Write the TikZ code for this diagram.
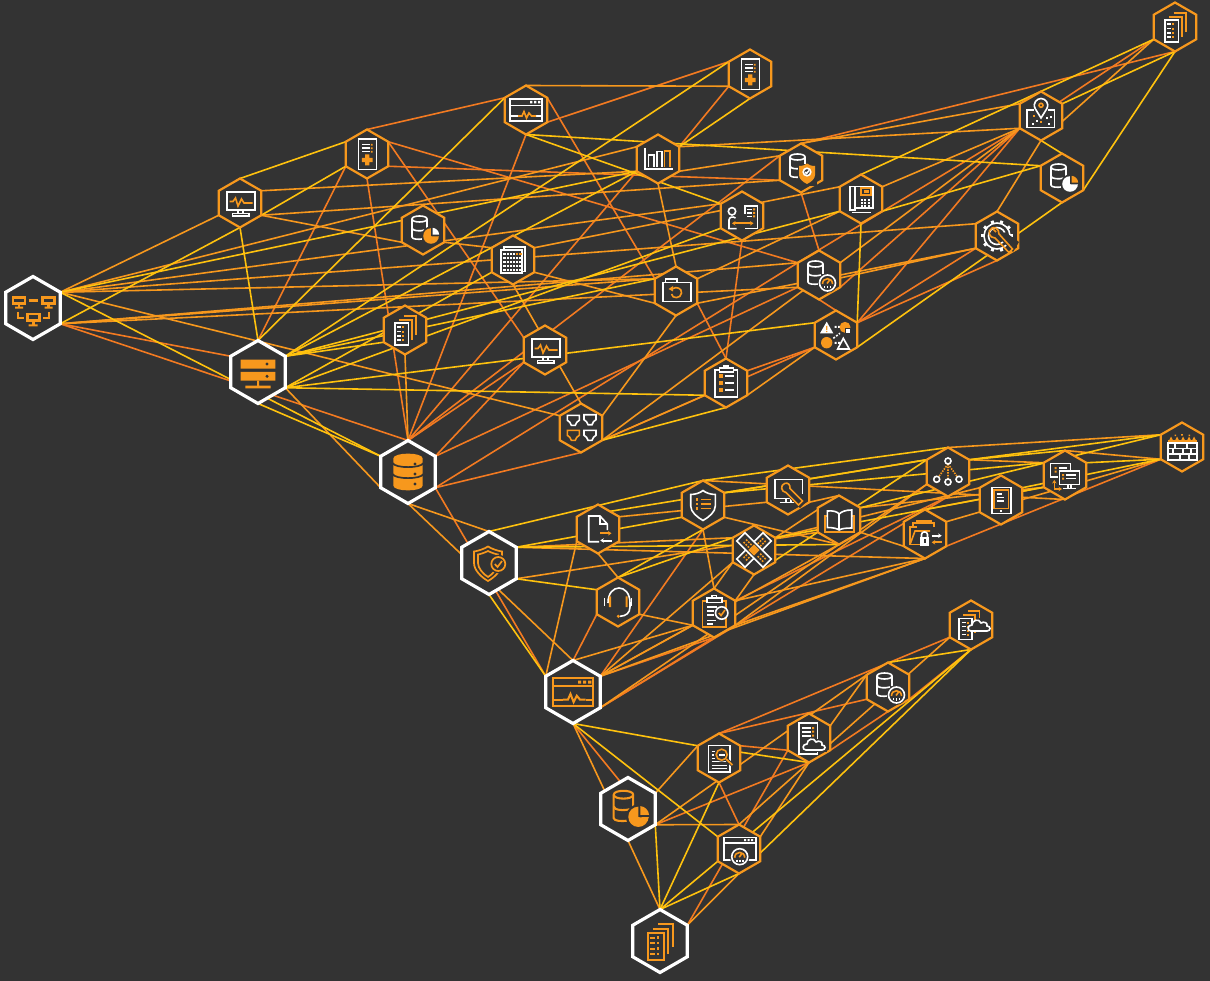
\documentclass[tikz,border=0pt]{standalone}
\usetikzlibrary{shapes.geometric,arrows.meta}
\definecolor{bgc}{HTML}{333333}
\definecolor{eo}{HTML}{F7981D}
\definecolor{er}{HTML}{F37A21}
\definecolor{ey}{HTML}{FFC20E}
\definecolor{wh}{HTML}{FFFFFF}
\pgfdeclarelayer{edges}
\pgfsetlayers{edges,main}
\tikzset{
 hexs/.style={regular polygon,regular polygon sides=6,shape border rotate=30,minimum size=49pt,inner sep=0pt,outer sep=0pt,draw=eo,line width=2.2pt,fill=bgc},
 hexb/.style={regular polygon,regular polygon sides=6,shape border rotate=30,minimum size=63pt,inner sep=0pt,outer sep=0pt,draw=wh,line width=3.2pt,fill=bgc},
 lnk/.style={line width=1.6pt,line cap=round},
 arw/.style={-{Stealth[length=3.5pt,width=4.5pt]}}
}
\newcommand\ic[5]{\begin{scope}[shift={(#2)},scale=#3,line width={1.6*#3}]\colorlet{ca}{#4}\colorlet{cb}{#5}\csname ic#1\endcsname\end{scope}}
% helpers
\newcommand\dbshape{%
 \draw[ca] (4,-1) -- (4,-11) .. controls (4,-15) and (-11,-15) .. (-11,-11) -- (-11,7) .. controls (-11,9.5) and (-4,9.5) .. (-1,9);
 \draw[ca] (-11,-11) .. controls (-11,-7) and (4,-7) .. (4,-11);
 \draw[ca] (-11,-2) .. controls (-11,1) and (-3,1.5) .. (2,0);
}
\newcommand\gaugeat[2]{%
 \fill[bgc] (#1,#2) circle (9.8);
 \draw[ca] (#1,#2) circle (8);
 \begin{scope}[shift={(#1,#2)}]
 \draw[cb] (-5,1) .. controls (-5,-6) and (5,-6) .. (5,1);
 \draw[cb] (-.5,.5) -- (2.5,-3.5);
 \draw[ca] (-3,3) -- (-3,5) (0,3) -- (0,5.5) (3,3) -- (3,5);
 \end{scope}
}
\newcommand\cloudat[2]{%
 \begin{scope}[shift={(#1,#2)}]
 \draw[ca,fill=bgc] (-9,6) .. controls (-13,6) and (-13,0) .. (-8,0) .. controls (-8,-5) and (-1,-7) .. (1,-2) .. controls (4,-4) and (8,-2) .. (7,1) .. controls (11,1) and (11,6) .. (7,6) -- cycle;
 \end{scope}
}
\newcommand\portat[3]{%
 \begin{scope}[shift={(#1,#2)}]
 \draw[#3] (-6,-5) -- (6,-5) -- (6,0) -- (3.5,2) -- (2,5) -- (-2,5) -- (-3.5,2) -- (-6,0) -- cycle;
 \end{scope}
}
\newcommand\icMon{%
 \draw[ca] (-13.3,-10.7) rectangle (15,7.3);
 \draw[cb] (-10.5,-1.5) -- (-7,-1.5) -- (-4.5,-5) -- (-2,3) -- (1.5,-4) -- (4,0) -- (12.5,0);
 \draw[ca] (-2,7.3) -- (-2,10.5) (3,7.3) -- (3,10.5);
 \draw[ca] (-7.5,10.5) rectangle (9,13.3);
}
\newcommand\icMed{%
 \draw[ca] (-8.7,-15) rectangle (9.6,15.7);
 \draw[ca] (-4.7,-9.3) -- (2.5,-9.3) (-4.7,-5.7) -- (2.5,-5.7) (-4.7,-2.3) -- (2.5,-2.3);
 \fill[cb] (3.8,-10.2) rectangle +(1.8,1.8) (3.8,-6.6) rectangle +(1.8,1.8) (3.8,-3.2) rectangle +(1.8,1.8);
 \fill[cb] (-2,.5) rectangle (2.4,11.5) (-5.2,3.8) rectangle (5.7,8.2);
}
\newcommand\icDbPie{%
 \dbshape
 \fill[bgc] (8,6) circle (9.5);
 \fill[cb] (8,6) circle (7.8);
 \fill[bgc] (8,6) -- (8,-3) -- (18,-3) -- (18,8.5) -- cycle;
 \fill[ca] (9.6,4.6) -- (9.6,-2.2) .. controls (13,-2) and (16,1) .. (16.2,4.6) -- cycle;
 \fill[cb!100] (9.8,6.3) -- (16,6.3) -- (15,9) -- cycle;
}
\newcommand\icDbPieW{%
 \dbshape
 \fill[bgc] (8,6) circle (9.5);
 \fill[ca] (8,6) circle (7.8);
 \fill[bgc] (8,6) -- (8,-3) -- (18,-3) -- (18,8.5) -- cycle;
 \fill[cb] (9.6,4.6) -- (9.6,-2.2) .. controls (13,-2) and (16,1) .. (16.2,4.6) -- cycle;
 \fill[ca] (9.8,6.3) -- (16,6.3) -- (15,9) -- cycle;
}
\newcommand\icDbShield{%
 \dbshape
 \fill[bgc] (-3.5,-4) rectangle (16,18);
 \fill[cb] (-2,-2) .. controls (2,-2) and (4,-3) .. (6,-4.5) .. controls (8,-3) and (10,-2) .. (14,-2) -- (14,7) .. controls (14,11) and (10,14) .. (6,16) .. controls (2,14) and (-2,11) .. (-2,7) -- cycle;
 \draw[ca,fill=bgc] (6,4) circle (3.8);
 \draw[ca] (4.2,4) -- (5.5,5.5) -- (8,2.5);
}
\newcommand\icDbGauge{\dbshape\gaugeat{8.5}{8}}
\newcommand\icCal{%
 \draw[ca] (-9.3,-10) -- (-9.3,-12.7) -- (12,-12.7) -- (12,11.7) -- (9,11.7);
 \draw[ca,fill=bgc] (-12,-10) rectangle (9,13.3);
 \foreach \x/\c in {0/ca,1/ca,2/ca,3/ca,4/cb,5/cb}{\fill[\c] ({-9.6+3.2*\x},-7) rectangle +(2.2,2.2);}
 \foreach \y in {1,2,3,4}{\foreach \x in {0,...,5}{\fill[ca] ({-9.6+3.2*\x},{-7+3.9*\y}) rectangle +(2.2,2.2);}}
}
\newcommand\icDocs{%
 \draw[cb] (-1.3,-14) -- (10.7,-14) -- (10.7,5);
 \draw[cb] (-5.7,-10) -- (6.7,-10) -- (6.7,10);
 \draw[ca,fill=bgc] (-10,-6.7) rectangle (3.3,15);
 \foreach \y in {-2.7,1.7,6,10.3}{\draw[ca] (-8,\y) -- (-4,\y); \fill[cb] (-2.8,{\y-1}) rectangle +(2,2);}
}
\newcommand\icWin{%
 \draw[ca] (-16,-10.7) rectangle (15.7,11);
 \draw[ca] (-16,-4.5) -- (15.7,-4.5);
 \fill[ca] (4,-9) rectangle +(2.4,2.4) (8,-9) rectangle +(2.4,2.4) (12,-9) rectangle +(2.4,2.4);
 \draw[ca] (-16,6) -- (-8,6) (10,6) -- (15.7,6);
 \draw[cb] (-8,6) -- (-4,6) -- (-2,1.5) -- (.5,8) -- (3,3) -- (5.5,6) -- (10,6);
}
\newcommand\icBars{%
 \draw[ca] (-13,-11) -- (-13,10.3) -- (14.7,10.3);
 \draw[ca] (-9.7,7.7) -- (-9.7,-4) -- (-4,-4) -- (-4,7.7);
 \draw[ca] (-1.3,7.7) -- (-1.3,-7.3) -- (4,-7.3) -- (4,7.7);
 \draw[cb] (6.3,7.7) -- (6.3,-8) -- (12,-8) -- (12,7.7);
}
\newcommand\icUserDoc{%
 \draw[ca] (-10,-4.7) circle (3.7);
 \draw[ca] (-5.5,12.7) -- (-13,12.7) -- (-13,4) .. controls (-13,1) and (-9,0) .. (-6.5,2);
 \draw[ca] (2.7,-2) -- (2.7,-10) -- (15.3,-10) -- (15.3,12.7) -- (2.7,12.7);
 \draw[ca] (5,-6.5) -- (10,-6.5) (5,-3) -- (10,-3) (5,.5) -- (10,.5);
 \fill[cb] (11,-7.5) rectangle +(2,2) (11,-4) rectangle +(2,2) (11,-.5) rectangle +(2,2);
 \draw[cb,{Stealth[length=3.5pt,width=4.5pt]}-{Stealth[length=3.5pt,width=4.5pt]}] (-10,7.3) -- (11.5,7.3);
}
\newcommand\icPhone{%
 \draw[ca] (-11,-12.3) rectangle (-6,11);
 \draw[ca] (-6,-12.3) -- (11.7,-12.3) -- (11.7,9.3) -- (-6,9.3);
 \draw[ca] (-9,13.7) -- (10,13.7);
 \draw[cb] (0,-10.7) rectangle (10,-4);
 \fill[cb] (2.8,-8.7) rectangle (7.5,-6);
 \foreach \y in {0,1,2}{\foreach \x in {0,1,2}{\fill[ca] ({-.5+3.6*\x},{.5+3*\y}) rectangle +(2.2,2);}}
}
\newcommand\icFolder{%
 \draw[ca] (-13.3,-8.3) rectangle (15,10.7);
 \draw[ca] (-10.7,-8.3) -- (-10.7,-12) -- (1,-12) -- (1,-8.3);
 \draw[cb] (-3,-2.5) .. controls (0,-4.5) and (6,-3) .. (5.5,2) .. controls (5,8) and (-4,8) .. (-4.5,3);
 \fill[cb] (-7.5,-2) -- (-3,-5) -- (-3,.5) -- cycle;
}
\newcommand\icClip{%
 \draw[ca] (-11,-13) rectangle (11.3,14);
 \draw[ca,fill=bgc] (-6.7,-15) rectangle (7.3,-11);
 \draw[ca] (-2,-15) -- (-2,-17) -- (2.5,-17) -- (2.5,-15);
 \foreach \y in {-6.7,.3,7.3}{\fill[cb] (-7.3,{\y-2}) rectangle +(4,4); \draw[ca] (-1,\y) -- (8,\y);}
}
\newcommand\icShapes{%
 \fill[ca] (-16,-1.7) -- (-9.3,-13.3) -- (-2.7,-1.7) -- cycle;
 \fill[cb] (-10,-9) rectangle (-8.6,-5) (-10,-4.2) rectangle (-8.6,-2.8);
 \fill[ca] (-1.3,-9) rectangle +(2,2) (2,-9) rectangle +(2,2);
 \fill[cb] (9,-7.7) circle (5.5);
 \fill[bgc] (8.7,-7.3) rectangle (14.7,-1.3);
 \fill[ca] (9.7,-6.3) rectangle (13.7,-2.3);
 \draw[ca,dash pattern=on 2pt off 1.5pt] (-2.7,3.3) -- (4,-1.7);
 \fill[cb] (-9.3,7.7) circle (5.7);
 \fill[ca] (-1.3,6.8) rectangle +(2,2) (2,6.8) rectangle +(2,2);
 \draw[ca] (1.7,14) -- (7.3,3.3) -- (13.3,14) -- cycle;
}
\newcommand\icPorts{%
 \portat{-7.7}{-7.7}{ca}\portat{9}{-8.3}{ca}\portat{-7.7}{7.3}{cb}\portat{9}{7.3}{ca}
}
\newcommand\icDbBig{%
 \fill[cb] (-14.7,-13.5) .. controls (-14.7,-20) and (14.7,-20) .. (14.7,-13.5) -- (14.7,13.5) .. controls (14.7,20) and (-14.7,20) .. (-14.7,13.5) -- cycle;
 \draw[bgc,line width=1.7pt] (-15.5,-9) .. controls (-13,-3.5) and (13,-3.5) .. (15.5,-9);
 \draw[bgc,line width=1.7pt] (-15.5,2) .. controls (-13,7.5) and (13,7.5) .. (15.5,2);
 \fill[bgc] (7,-8) circle (1.7) (7,2) circle (1.7) (7,12) circle (1.7);
}
\newcommand\icServer{%
 \fill[cb] (-17.3,-12.3) rectangle (17.3,-3.3) (-17.3,0) rectangle (17.3,8.7);
 \fill[bgc] (9,-8) circle (1.7) (9,4.3) circle (1.7);
 \fill[cb] (-1,8.7) rectangle (1,14) (-12.7,13.7) rectangle (12.7,16.3);
}
\newcommand\icNet{%
 \begin{scope}[line width=2.4pt]
 \draw[cb] (-20,-10.5) rectangle (-8,-4.5) (-14,-4.5) -- (-14,-1) (9.5,-10.5) rectangle (21.5,-4.5) (15.5,-4.5) -- (15.5,-1);
 \draw[cb] (-5.7,6) rectangle (6.5,12.5) (.3,12.5) -- (.3,17);
 \draw[cb] (-4.3,-7.3) -- (5,-7.3);
 \end{scope}
 \fill[cb] (-18,-1.3) rectangle (-10,.7) (11.5,-1.3) rectangle (19.5,.7) (-4.3,16.5) rectangle (4.7,18.5);
 \begin{scope}[line width=1.8pt]
 \draw[cb] (-15.3,4) -- (-15.3,9.7) -- (-9.3,9.7) (15.7,4) -- (15.7,9.7) -- (9.7,9.7);
 \end{scope}
}
\newcommand\icPin{%
 \draw[ca] (-14,-5.7) rectangle (13.3,11.7);
 \fill[bgc] (-7,-19) rectangle (7,2);
 \draw[ca] (-5.6,-7) -- (0,2) -- (5.6,-7) .. controls (9,-13) and (4,-17.5) .. (0,-17.5) .. controls (-4,-17.5) and (-9,-13) .. (-5.6,-7);
 \draw[cb] (0,-10.7) circle (2);
 \foreach \x/\y/\c in {-8/-1/cb,-5/4/ca,5/1/ca,9/0/ca,-9/7/ca,-.8/5/cb,7/7/ca}{\fill[\c] (\x,\y) rectangle +(1.9,1.9);}
}
\newcommand\icGear{%
 \draw[ca] (0,0) circle (13);
 \foreach \t in {0,36,...,324}{\draw[ca,line width=3pt] (\t:12.7) -- (\t:16);}
 \fill[bgc] (0,0) circle (11.7);
 \draw[ca] (0,0) circle (8.5);
 \fill[bgc] (2,2) -- (16,16) -- (22,6) -- (8,-4) -- cycle;
 \draw[cb] (-5,-8) .. controls (-10,-5) and (-8,2) .. (-2,2) -- (12,16.5) -- (15.5,13) -- (2,-2) .. controls (2,-8) and (-3,-9) .. (-5,-8);
 \draw[cb] (-1,-4) -- (-4,-7);
}
\newcommand\icMonWrench{%
 \draw[ca] (5,8.3) -- (-13.3,8.3) -- (-13.3,-10.7) -- (14.3,-10.7) -- (14.3,4);
 \draw[ca] (-2,8.3) -- (-2,12) (3,8.3) -- (3,12);
 \draw[ca] (-8.3,12.3) -- (8.3,12.3);
 \fill[bgc] (-3,4) -- (12,18) -- (18,12) -- (4,-3) -- cycle;
 \draw[cb] (-3.5,-6.5) .. controls (-8,-5) and (-7,2) .. (-2,2.5) -- (10.5,15) -- (14.5,11) -- (2,-1.5) .. controls (2.5,-5) and (0,-8) .. (-3.5,-6.5);
}
\newcommand\icBook{%
 \draw[cb] (-12,-4.3) -- (-14,-4.3) -- (-14,11.7) -- (15,11.7) -- (15,-4.3) -- (13,-4.3);
 \draw[ca,fill=bgc] (-11.7,-9) .. controls (-6,-9.5) and (-2,-8.5) .. (.2,-6) .. controls (2.5,-8.5) and (7,-10) .. (12.7,-10) -- (12.7,8) .. controls (7,8) and (2.5,8.5) .. (.2,10) .. controls (-2,8.5) and (-6,7.5) .. (-11.7,7.5) -- cycle;
 \draw[ca] (.2,-6) -- (.2,10);
}
\newcommand\bandrect{%
 \draw[ca,fill=bgc] (-18.5,-5.8) rectangle (18.5,5.8);
 \foreach \x in {-13,-10,-7,7,10,13}{\foreach \y in {-2.6,.9}{\fill[cb] (\x,\y) rectangle +(1.7,1.7);}}
}
\newcommand\icBand{%
 \begin{scope}[rotate=45]\bandrect\end{scope}
 \begin{scope}[rotate=-45]\bandrect\fill[cb] (-4,-4) rectangle (4,4);\end{scope}
}
\newcommand\icHead{%
 \draw[ca] (-10,1) .. controls (-10,-19) and (12,-19) .. (12,1) -- (12,5) .. controls (12,11) and (8,14) .. (2,14.3);
 \fill[cb] (.3,14.3) circle (1.7);
 \fill[cb] (-9.2,-5.7) rectangle (-7,5) (7.5,-5.7) rectangle (9.7,5);
 \draw[ca] (-13.7,-4) -- (-13.7,3.5) (13.5,-4) -- (13.5,3.5);
}
\newcommand\icClipCheck{%
 \draw[cb] (-11.7,-12) rectangle (11.7,14);
 \draw[ca,fill=bgc] (-7.3,-15) rectangle (7.7,-10.5);
 \draw[ca] (-2,-15) -- (-2,-17.5) -- (2.5,-17.5) -- (2.5,-15);
 \draw[ca] (-7,-6) -- (2.5,-6) (-7,-2) -- (0,-2) (-7,2) -- (0,2) (-7,7.5) -- (2,7.5) (-7,11) -- (-1,11);
 \draw[ca,fill=bgc] (7.7,0) circle (6.2);
 \draw[cb] (4.8,0) -- (7,2.5) -- (11,-3);
}
\newcommand\icFolderLock{%
 \draw[cb] (-15,10.5) -- (-15,-7.3) -- (-8,-7.3) (-12,-7.3) -- (-12,-11) -- (9,-11) -- (9,-7.5);
 \draw[cb] (-15,10.5) -- (-10,-3) -- (5,-3);
 \draw[cb] (-8,-11) -- (-8,-13) -- (7,-13);
 \draw[cb] (-15,10.5) -- (-5,10.5);
 \draw[ca] (-3.5,3) -- (-3.5,.5) .. controls (-3.5,-3) and (2.5,-3) .. (2.5,.5) -- (2.5,3);
 \fill[ca] (-5,2.7) rectangle (4.3,11.5);
 \fill[bgc] (-1.3,5) rectangle (.7,9);
 \draw[ca,arw,line width=1.8pt] (6.7,1.7) -- (16.7,1.7);
 \draw[cb,arw,line width=1.8pt] (16.7,8.3) -- (6.7,8.3);
}
\newcommand\icTree{%
 \draw[cb,dash pattern=on 1.5pt off 1.2pt] (0,-8) -- (-9.5,5) (0,-8) -- (0,7) (0,-8) -- (9.5,5);
 \draw[ca] (0,-11) circle (3) (-11.3,7.3) circle (3) (0,10) circle (3) (11,7.3) circle (3);
}
\newcommand\icTablet{%
 \draw[ca] (-9.3,-12.7) rectangle (9.7,13.3);
 \draw[cb] (-7,-10) rectangle (7.3,8.3);
 \draw[ca] (-4.3,-6) -- (.7,-6) (-4.3,-2.7) -- (2.5,-2.7) (-4.3,1) -- (3,1);
 \fill[ca] (-.7,9.8) rectangle (1.3,11.8);
}
\newcommand\icMons{%
 \draw[ca] (-14.7,1.7) -- (-14.7,-11.7) -- (5.3,-11.7) -- (5.3,-4);
 \draw[ca] (-14.7,1.7) -- (-7,1.7);
 \draw[ca,fill=bgc] (-5.7,-4) rectangle (14.3,9.3);
 \fill[cb] (-10.5,-8) rectangle +(2,2) (-10.5,-4.5) rectangle +(2,2) (-3,-1) rectangle +(2,2) (-3,2.5) rectangle +(2,2);
 \draw[ca] (-6,-7) -- (2,-7) (1,0) -- (11,0) (1,3.5) -- (11,3.5);
 \draw[ca] (3,9.3) -- (3,13) (6,9.3) -- (6,13);
 \draw[ca] (-2,13.5) -- (11,13.5);
 \draw[cb,arw] (-10.7,14) -- (-10.7,5);
 \draw[cb,arw] (-10.7,14) -- (-3,14);
}
\newcommand\icFire{%
 \draw[ca] (-14.3,-4) rectangle (14.7,12.7);
 \draw[ca] (-14.3,1.5) -- (14.7,1.5) (-14.3,7) -- (14.7,7);
 \draw[ca] (-7,-4) -- (-7,1.5) (5,-4) -- (5,1.5) (-9,1.5) -- (-9,7) (1,1.5) -- (1,7) (9,1.5) -- (9,7) (-2,7) -- (-2,12.7) (7,7) -- (7,12.7);
 \fill[cb] (-14.3,-6.7) rectangle (14.7,-5);
 \foreach \x in {-11,-5,1,7,12}{\fill[cb] ({\x-2.5},-5.5) -- (\x,-10.5) -- ({\x+2.5},-5.5) -- cycle;}
 \fill[cb] (-.8,-13) rectangle (.8,-11.3) (-7.5,-12.5) rectangle +(1.5,1.5) (6.5,-12.5) rectangle +(1.5,1.5);
}
\newcommand\icShieldList{%
 \draw[ca] (0,-14.5) .. controls (-3,-12) and (-8,-10.5) .. (-12.3,-10.5) -- (-12.3,1) .. controls (-12.3,7) and (-6,12) .. (0,15.5) .. controls (6,12) and (12.3,7) .. (12.3,1) -- (12.3,-10.5) .. controls (8,-10.5) and (3,-12) .. (0,-14.5) -- cycle;
 \foreach \y in {-5.5,-1,3.5}{\draw[cb,line width=1.6pt] (-2.5,\y) -- (8,\y); \fill[cb] (-7,{\y-1.1}) rectangle +(2.4,2.2);}
}
\newcommand\icDocArrows{%
 \draw[ca] (9.3,1) -- (9.3,-5) -- (2,-13) -- (-9.3,-13) -- (-9.3,12.7) -- (1,12.7);
 \draw[ca] (2,-13) -- (2,-5) -- (9.3,-5);
 \draw[cb,arw,line width=2pt] (2,4.3) -- (13.5,4.3);
 \draw[ca,arw,line width=2pt] (13.5,11.5) -- (2.3,11.5);
}
\newcommand\icShieldBig{%
 \draw[cb,line width=1.7pt] (-1,-16.5) .. controls (-5,-14) and (-11,-12) .. (-15,-11.5) -- (-15,0) .. controls (-15,7) and (-8,14) .. (-1,18) .. controls (6,14) and (13,7) .. (13,0) -- (13,-11.5) .. controls (9,-12) and (3,-14) .. (-1,-16.5) -- cycle;
 \draw[cb,line width=1.7pt] (-1,-12) .. controls (-4,-10.5) and (-8,-9) .. (-11,-8.5) -- (-11,0) .. controls (-11,5) and (-6,11) .. (-1,14) .. controls (4,11) and (9,5) .. (9,0) -- (9,-8.5) .. controls (6,-9) and (2,-10.5) .. (-1,-12) -- cycle;
 \fill[bgc] (9.3,1) circle (9.3);
 \draw[cb,line width=1.7pt] (9.3,1) circle (7);
 \draw[cb,line width=1.7pt] (5.8,1) -- (8.5,4) -- (13,-2);
}
\newcommand\icDocSearch{%
 \draw[ca] (-10.7,-12.7) rectangle (11,14);
 \draw[ca] (-7.5,-6.5) -- (-4.5,-6.5) (-7.5,-3) -- (-5,-3) (-7.5,.5) -- (-4.5,.5);
 \draw[ca] (-7.5,3.5) -- (8,3.5) (-7.5,7.5) -- (8,7.5);
 \draw[ca] (-7.5,10.5) -- (8,10.5);
 \fill[bgc] (2.7,-3.3) circle (7);
 \draw[cb] (2.7,-3.3) circle (5.5);
 \fill[ca] (-.5,-4.5) rectangle (6,-2);
 \draw[bgc,line width=3.5pt] (7,1) -- (14,7.5);
 \draw[cb,line width=1.8pt] (7,1) -- (13.5,7);
}
\newcommand\icDocCloud{%
 \draw[ca] (-10,-4) -- (-10,-15.3) -- (8.3,-15.3) -- (8.3,15.7) -- (-10,15.7) -- cycle;
 \draw[ca] (-6.7,-10) -- (1.7,-10) (-6.7,-6.3) -- (1.7,-6.3) (-6.7,-2.3) -- (1.7,-2.3);
 \fill[cb] (3.2,-11) rectangle +(2,2) (3.2,-7.3) rectangle +(2,2) (3.2,-3.3) rectangle +(2,2);
 \fill[bgc] (-7,1) rectangle (18,14);
 \cloudat{6}{6}
}
\newcommand\icStackCloud{%
 \draw[cb] (-3.3,-14.3) -- (8.3,-14.3) -- (8.3,-7);
 \draw[cb] (-7.7,-10) -- (4,-10) -- (4,8);
 \draw[ca,fill=bgc] (-12,-6.7) rectangle (.7,14.3);
 \foreach \y in {-2.5,1.5,5.5,9.5}{\draw[ca] (-9.5,\y) -- (-5.5,\y); \fill[cb] (-4.2,{\y-1}) rectangle +(2,2);}
 \cloudat{9}{0}
}
\newcommand\icGaugeWin{%
 \draw[ca] (-7,10.7) -- (-15.3,10.7) -- (-15.3,-11.7) -- (17,-11.7) -- (17,10.7) -- (9,10.7);
 \draw[ca] (-15.3,-6) -- (17,-6);
 \fill[ca] (5,-10) rectangle +(2,2) (8.5,-10) rectangle +(2,2) (12,-10) rectangle +(2,2);
 \gaugeat{.7}{7.7}
}
\begin{document}
\begin{tikzpicture}[x=1pt,y=-1pt]
\useasboundingbox (0,0) rectangle (1210,981);
\begin{pgfonlayer}{edges}\fill[bgc] (0,0) rectangle (1210,981);\end{pgfonlayer}
% nodes
\foreach \n/\x/\y in {a1/240/203,a2/367/154,a3/423/230,a4/513/260,a5/405/330,a7/545/350,a8/526/110,a9/750/74,a10/658/159,a11/801/168,a12/742/216,a13/861/199,a14/819/275,a15/676/291,a16/726/383,a17/836/335,a18/581/428,a20/1041/116,a21/1062/178,a22/997/236,a23/1175/27,b1/598/529,b2/703/505,b3/788/490,b4/839/520,b5/754/550,b6/618/602,b7/714/613,b9/925/534,b10/948/472,b11/1001/500,b12/1065/475,b13/1182/447,c0/719/758,c1/809/738,c2/888/687,c3/971/625,c5/739/849}{\node[hexs] (\n) at (\x,\y) {};}
\foreach \n/\x/\y in {a0/33/308,a6/258/372,a19/408/472,b0/489/563,b8/573/692,c4/628/809,c6/660/941}{\node[hexb] (\n) at (\x,\y) {};}
% edges
\begin{pgfonlayer}{edges}
\foreach \p/\i/\q/\j in {c0/1/c3/3,c0/1/c2/3,c0/6/c1/3,c1/5/c2/4,c2/5/c3/4,c4/5/c1/4,c5/1/c0/4,c6/6/c1/3,b8/4/c4/5,
a19/5/b8/2,b6/3/b8/1,b8/6/b2/4,b8/6/b7/4,b8/5/b7/4,b8/5/b10/4,b7/6/b10/4,b9/5/b13/3,
a0/5/a6/2,a0/5/a19/1,a11/1/a23/4,a20/3/a23/3,a11/4/a14/1,a14/2/a20/3,a14/5/a20/3,a17/6/a20/3,a22/4/a17/6,a22/3/a17/6,a14/4/a17/1,a2/1/a8/2,a2/5/a11/3,a2/6/a14/2,a2/6/a7/2,a2/3/a6/1,a2/4/a19/1,a8/6/a15/2,a8/5/a9/2,a8/4/a19/1,a9/3/a10/6,a10/3/a19/1,a19/1/a11/2,a19/1/a7/3,a19/6/a7/3,a19/6/a14/3,a19/5/a14/2,a19/5/a18/4,a12/4/a16/1,a15/5/a16/1,a18/5/a17/3,a16/6/a17/3}
 {\draw[lnk,er] (\p.corner \i) -- (\q.corner \j);}
\foreach \p/\i/\q/\j in {b8/4/c4/4,c0/2/c4/6,c4/5/c5/1,c4/5/c2/2,c4/4/c6/1,c1/6/c2/2,c1/4/c3/3,c5/6/c1/4,c5/1/c1/4,c6/6/c5/4,
a19/4/b0/1,a19/4/b8/1,b0/6/b5/2,b0/6/b9/4,b0/5/b4/3,b1/6/b3/3,b2/1/b12/4,b1/3/b8/2,b1/4/b6/1,b6/5/b7/3,b8/1/b7/3,b2/4/b7/1,b7/1/b5/3,b7/6/b5/4,b2/5/b4/4,b3/5/b4/1,b10/6/b12/2,b4/6/b12/3,b5/6/b11/2,b4/5/b9/3,b9/1/b12/3,b12/1/b13/3,b9/6/b13/3,b10/1/b13/2,b8/6/b5/3,b8/6/b7/3,b8/6/b4/4,b8/6/b9/4,b7/5/b9/4,b7/6/b9/4,b7/5/b10/3,b8/5/b10/3,b5/6/b4/1,
a0/6/a1/3,a0/6/a10/2,a0/6/a12/2,a0/6/a22/2,a0/6/a15/2,a0/6/a18/2,a0/5/a15/2,a0/5/a14/2,a0/5/a14/3,a1/6/a10/3,a1/5/a3/3,a1/5/a11/3,a3/5/a4/2,a4/6/a13/2,a4/5/a15/3,a4/4/a18/1,a5/4/a19/1,a6/5/a19/3,a10/4/a15/1,a10/5/a11/2,a10/6/a20/3,a11/1/a20/2,a8/1/a9/3,a13/6/a20/3,a14/6/a20/3,a20/4/a22/1,a20/4/a23/3,a15/5/a22/3,a14/3/a22/3,a15/6/a13/3,a15/4/a18/6,a18/5/a16/3,a18/5/a14/6,a16/5/a17/3}
 {\draw[lnk,eo] (\p.corner \i) -- (\q.corner \j);}
\foreach \p/\i/\q/\j in {b8/4/c0/2,b8/4/c5/2,c0/2/c1/4,c4/5/c6/1,c0/4/c6/1,c5/3/c6/1,c5/4/c6/1,c2/1/c3/4,c5/3/c3/4,c5/4/c3/4,
b0/1/b2/1,b0/6/b2/3,b0/6/b4/4,b0/5/b6/2,b0/4/b8/2,b1/2/b10/2,b2/1/b10/1,b6/1/b2/4,b6/1/b5/2,b2/6/b10/2,b2/6/b12/2,b5/6/b12/3,b5/4/b10/2,b10/6/b12/1,b10/6/b13/2,b4/6/b13/2,b12/6/b13/3,b11/6/b13/3,
a0/6/a10/3,a0/6/a19/2,a0/5/a1/4,a1/1/a2/2,a1/5/a2/3,a1/4/a6/1,a6/1/a8/2,a6/6/a9/2,a6/6/a10/3,a6/6/a5/3,a6/6/a13/3,a6/6/a15/2,a6/5/a12/3,a6/5/a4/3,a6/5/a17/2,a6/5/a16/3,a6/4/a19/2,a8/4/a21/2,a8/4/a12/2,a9/4/a10/6,a13/1/a23/3,a20/6/a23/4,a23/4/a21/5,a17/5/a21/4,a13/5/a21/2,a13/4/a17/6,a18/5/a16/4,a20/4/a21/1}
 {\draw[lnk,ey] (\p.corner \i) -- (\q.corner \j);}
\end{pgfonlayer}
% icons
\ic{Net}{a0}{1}{eo}{eo}
\ic{Mon}{a1}{1}{wh}{eo}
\ic{Med}{a2}{1}{wh}{eo}
\ic{DbPie}{a3}{1}{wh}{eo}
\ic{Cal}{a4}{1}{wh}{eo}
\ic{Docs}{a5}{1}{wh}{eo}
\ic{Server}{a6}{1}{eo}{eo}
\ic{Mon}{a7}{1}{wh}{eo}
\ic{Win}{a8}{1}{wh}{eo}
\ic{Med}{a9}{1}{wh}{eo}
\ic{Bars}{a10}{1}{wh}{eo}
\ic{DbShield}{a11}{1}{wh}{eo}
\ic{UserDoc}{a12}{1}{wh}{eo}
\ic{Phone}{a13}{1}{wh}{eo}
\ic{DbGauge}{a14}{1}{wh}{eo}
\ic{Folder}{a15}{1}{wh}{eo}
\ic{Clip}{a16}{1}{wh}{eo}
\ic{Shapes}{a17}{1}{wh}{eo}
\ic{Ports}{a18}{1}{wh}{eo}
\ic{DbBig}{a19}{1}{eo}{eo}
\ic{Pin}{a20}{1}{wh}{eo}
\ic{DbPieW}{a21}{1}{wh}{eo}
\ic{Gear}{a22}{1}{wh}{eo}
\ic{Docs}{a23}{1}{wh}{eo}
\ic{ShieldBig}{b0}{1}{eo}{eo}
\ic{DocArrows}{b1}{1}{wh}{eo}
\ic{ShieldList}{b2}{1}{wh}{eo}
\ic{MonWrench}{b3}{1}{wh}{eo}
\ic{Book}{b4}{1}{wh}{eo}
\ic{Band}{b5}{1}{wh}{eo}
\ic{Head}{b6}{1}{wh}{eo}
\ic{ClipCheck}{b7}{1}{wh}{eo}
\ic{Win}{b8}{1.27}{eo}{eo}
\ic{FolderLock}{b9}{1}{wh}{eo}
\ic{Tree}{b10}{1}{wh}{eo}
\ic{Tablet}{b11}{1}{wh}{eo}
\ic{Mons}{b12}{1}{wh}{eo}
\ic{Fire}{b13}{1}{wh}{eo}
\ic{DocSearch}{c0}{1}{wh}{eo}
\ic{DocCloud}{c1}{1}{wh}{eo}
\ic{DbGauge}{c2}{1}{wh}{eo}
\ic{StackCloud}{c3}{1}{wh}{eo}
\ic{DbPie}{c4}{1.3}{eo}{eo}
\ic{GaugeWin}{c5}{1}{wh}{eo}
\ic{Docs}{c6}{1.25}{eo}{eo}
\end{tikzpicture}
\end{document}
